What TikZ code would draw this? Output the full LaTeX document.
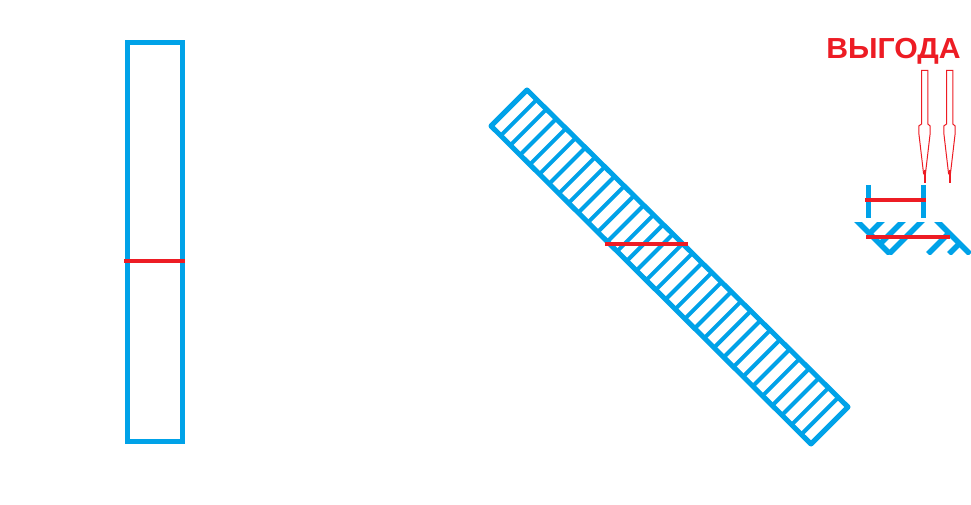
\documentclass[tikz,border=0pt]{standalone}
\usepackage{fontspec}
\setmainfont{Liberation Sans}
\usetikzlibrary{calc}
\definecolor{pblue}{HTML}{00A2E8}
\definecolor{pred}{HTML}{ED1C24}
\begin{document}
\begin{tikzpicture}[x=1pt,y=-1pt,
  bl/.style={draw=pblue,line width=5pt},
  hatchline/.style={draw=pblue,line width=4pt},
  baseline/.style={draw=pblue,line width=5.5pt},
  rl/.style={draw=pred,line width=4pt},
  arrowoutline/.style={draw=pred,line width=1pt,line join=miter},
  arrowtip/.style={draw=pred,line width=2pt}]
\useasboundingbox[fill=white] (0,0) rectangle (971,505);

% left vertical rectangle
\draw[bl] (127.5,42.5) rectangle (182.5,441.5);
\draw[rl] (124,261) -- (185,261);

% tilted hatched rectangle
\coordinate (T) at (527,90);
\coordinate (L) at (491,126);
\coordinate (R) at (848,407);
\coordinate (B) at (811,444);
\foreach \k in {1,...,32}
  \draw[hatchline] ($(T)!\k/33!(R)$) -- ($(L)!\k/33!(B)$);
\draw[bl,line join=round] (T) -- (R) -- (B) -- (L) -- cycle;
\draw[rl] (605,244) -- (688,244);

% label
\node[anchor=base,text=pred,inner sep=0pt,xscale=1.04,font=\bfseries\fontsize{29}{29}\selectfont] (label) at (893.5,58.5) {ВЫГОДА};

% hollow arrows
\draw[arrowoutline] (921.5,70.5) -- (921.5,124) -- (918.8,126) -- (918.8,133) -- (923.6,174) -- (925.4,174) -- (930.2,133) -- (930.2,126) -- (927.8,124) -- (927.8,70.5) -- cycle;
\coordinate (tipa1) at (924.6,170);
\coordinate (tipa2) at (924.6,183);
\draw[arrowtip] (tipa1) -- (tipa2);
\draw[arrowoutline] (946.5,70.5) -- (946.5,124) -- (943.8,126) -- (943.8,133) -- (948.6,174) -- (950.4,174) -- (955.2,133) -- (955.2,126) -- (952.8,124) -- (952.8,70.5) -- cycle;
\coordinate (tipb1) at (949.6,170);
\coordinate (tipb2) at (949.6,183);
\draw[arrowtip] (tipb1) -- (tipb2);

% posts with red span
\draw[bl,line width=4.7pt] (868.3,185) -- (868.3,218);
\draw[bl,line width=4.7pt] (923.3,185) -- (923.3,218);
\draw[rl] (865,200.3) -- (926,200.3);

% hatched base
\begin{scope}
  \clip (840,222) rectangle (975,254);
  \draw[baseline] (856,220) -- (890,254);
  \draw[baseline] (936,220) -- (970,254);
  \draw[baseline] (883,220) -- (868,235);
  \draw[baseline] (904,220) -- (879,245);
  \draw[baseline] (923,220) -- (889,254);
  \draw[baseline] (950,232) -- (928,254);
  \draw[baseline] (960,243) -- (949,254);
\end{scope}
\draw[rl] (866,237) -- (950,237);
\end{tikzpicture}
\end{document}
